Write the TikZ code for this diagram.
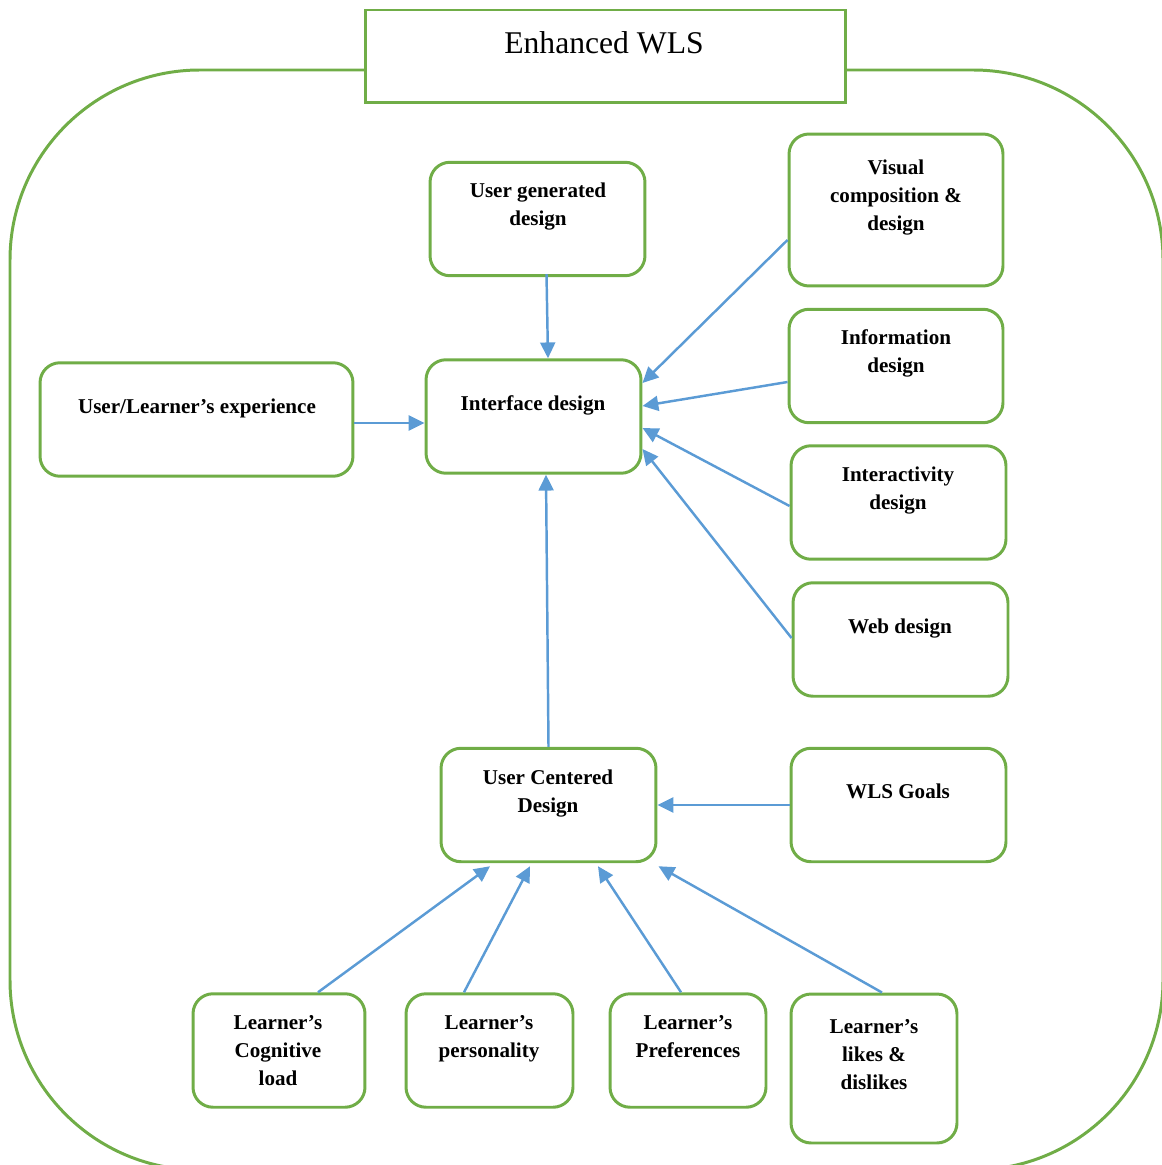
\documentclass[tikz,border=0pt]{standalone}
\usepackage{fontspec}
\setmainfont{Liberation Serif}
\usetikzlibrary{positioning,arrows.meta}
\definecolor{wlsgreen}{HTML}{70AD47}
\definecolor{wlsblue}{HTML}{5B9BD5}

\tikzset{
  blk/.style={draw=wlsgreen, line width=1.7pt, rounded corners=0.4cm, inner sep=0pt, minimum width=4.3cm, minimum height=2.27cm},
  txt/.style={font=\fontsize{12}{16}\selectfont\bfseries, align=center, inner sep=0pt, anchor=north, yshift=-0.14cm},
  arr/.style={draw=wlsblue, line width=1.4pt, -{Triangle[length=9pt,width=8.5pt]}},
}

\begin{document}
\begin{tikzpicture}[x=0.02cm,y=-0.02cm]
\useasboundingbox (0,0) rectangle (1161,1165);
% outer frame and title
\draw[draw=wlsgreen, line width=1.7pt, rounded corners=3.8cm] (10,70) rectangle (1163,1170);
\node[draw=wlsgreen, line width=1.7pt, fill=white, inner sep=0pt, minimum width=9.62cm, minimum height=1.86cm] (title) at (605.5,56.5) {};
\node[font=\fontsize{18}{22}\selectfont, inner sep=0pt, anchor=base] (titlet) at (604,54) {Enhanced WLS};

% boxes
\node[blk] (ugd) at (537.5,219) {};
\node[blk] (ifd) at (533.5,416.5) {};
\node[blk, minimum width=6.26cm] (ule) at (196.5,419.5) {};
\node[blk, minimum width=4.28cm, minimum height=3.04cm] (vis) at (896,210) {};
\node[blk, minimum width=4.28cm] (inf) at (896,366) {};
\node[blk] (int) at (898.5,502.5) {};
\node[blk] (web) at (900.5,639.5) {};
\node[blk] (ucd) at (548.5,805) {};
\node[blk] (wls) at (898.5,805) {};
\node[blk, minimum width=3.44cm] (lcl) at (279,1050.5) {};
\node[blk, minimum width=3.34cm] (lps) at (489.5,1050.5) {};
\node[blk, minimum width=3.12cm] (lpr) at (688,1050.5) {};
\node[blk, minimum width=3.32cm, minimum height=2.98cm] (lld) at (874,1068.5) {};

% texts
\node[txt] (ugdt) at (538,170) {\strut User generated\\design};
\node[txt] (ifdt) at (533,383) {\strut Interface design};
\node[txt] (ulet) at (197,386) {\strut User/Learner’s experience};
\node[txt] (vist) at (896,147) {\strut Visual\\composition \&\\design};
\node[txt] (inft) at (896,317) {\strut Information\\design};
\node[txt] (intt) at (898,454) {\strut Interactivity\\design};
\node[txt] (webt) at (900,606) {\strut Web design};
\node[txt] (ucdt) at (548,757) {\strut User Centered\\Design};
\node[txt] (wlst) at (898,771) {\strut WLS Goals};
\node[txt] (lclt) at (278,1002) {\strut Learner’s\\Cognitive\\load};
\node[txt] (lpst) at (489,1002) {\strut Learner’s\\personality};
\node[txt] (lprt) at (688,1002) {\strut Learner’s\\Preferences};
\node[txt] (lldt) at (874,1006) {\strut Learner’s\\likes \&\\dislikes};

% arrows into interface design
\draw[arr] ([xshift=0.18cm, yshift=0.06cm]ugd.south) -- ([xshift=0.29cm]ifd.north);
\draw[arr] ([yshift=-0.07cm]ule.east) -- ([yshift=-0.07cm]ule.east -| ifd.west);
\draw[arr] ([yshift=-0.6cm]vis.west) -- ([yshift=0.67cm]ifd.east);
\draw[arr] ([yshift=-0.32cm]inf.west) -- ([yshift=0.21cm]ifd.east);
\draw[arr] ([yshift=-0.07cm]int.west) -- ([yshift=-0.23cm]ifd.east);
\draw[arr] ([yshift=0.03cm]web.west) -- ([yshift=-0.65cm]ifd.east);
\draw[arr] (ucd.north) -- ([xshift=0.25cm]ifd.south);

% arrows into user centered design
\draw[arr] (wls.west) -- (ucd.east);
\draw[arr] ([xshift=0.78cm]lcl.north) -- ([xshift=-1.17cm, yshift=-0.06cm]ucd.south);
\draw[arr] ([xshift=-0.51cm]lps.north) -- ([xshift=-0.37cm, yshift=-0.06cm]ucd.south);
\draw[arr] ([xshift=-0.14cm]lpr.north) -- ([xshift=0.99cm, yshift=-0.06cm]ucd.south);
\draw[arr] ([xshift=0.16cm]lld.north) -- ([xshift=2.2cm, yshift=-0.06cm]ucd.south);
\end{tikzpicture}
\end{document}
